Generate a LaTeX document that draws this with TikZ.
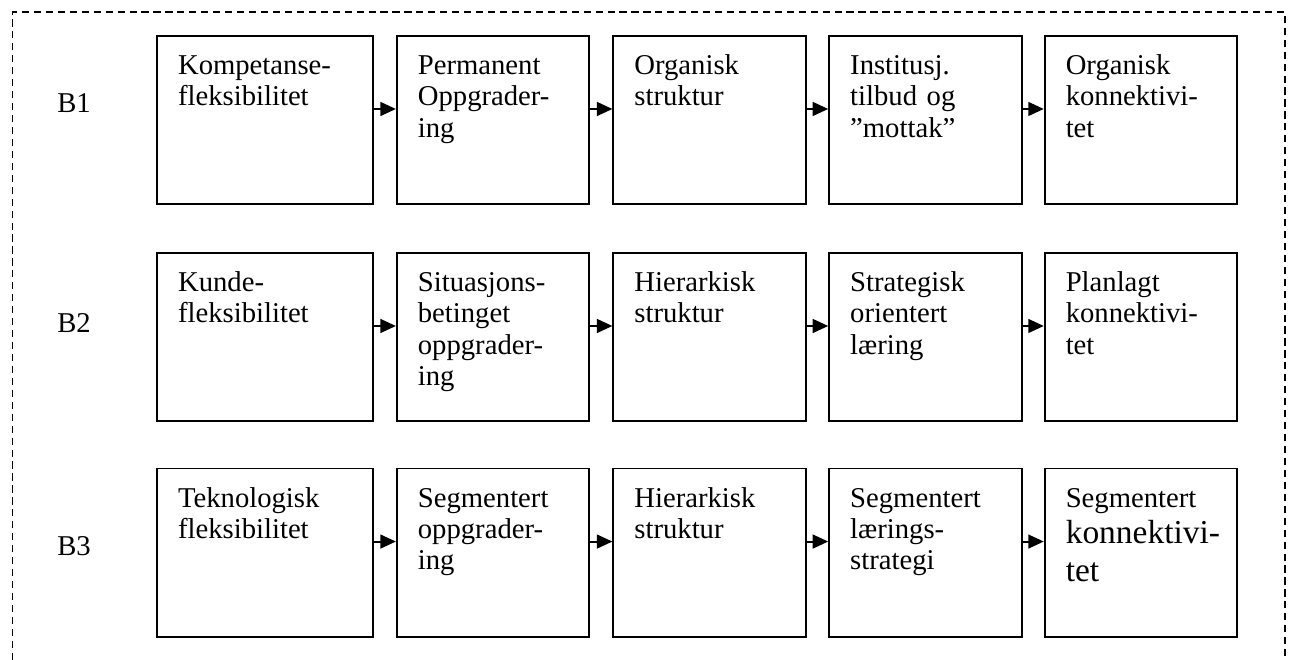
\documentclass[tikz,border=0pt]{standalone}
\usepackage{fontspec}
\setmainfont{Liberation Serif}
\usetikzlibrary{arrows.meta}
\begin{document}
\begin{tikzpicture}[x=1pt,y=-1pt,
  every node/.style={font=\fontsize{12pt}{13pt}\selectfont},
  stage/.style={draw,line width=0.8pt,align=left,inner xsep=8.8pt,inner ysep=8.3pt,
    text height=8pt,text depth=45.7pt,text width=62.9pt},
  wide/.style={stage,text width=72.8pt},
  rowlabel/.style={anchor=base west,inner sep=0pt},
  >={Triangle[length=6.5pt,width=5.8pt]}]
  \useasboundingbox (0,0) rectangle (540.2,276.1);
  \draw[dash pattern=on 3pt off 2pt,line width=0.6pt] (5.2,276.1) -- (5.2,5.1) -- (537.7,5.1) -- (537.7,276.1);

  \node[rowlabel] (B1) at (23.8,46.9) {B1};
  \node[rowlabel] (B2) at (23.8,139.3) {B2};
  \node[rowlabel] (B3) at (23.8,232.6) {B3};

  \node[wide] (11) at (110.9,50.2) {Kompetanse-\\fleksibilitet};
  \node[stage] (12) at (206.3,50.2) {Permanent\\Oppgrader-\\ing};
  \node[stage] (13) at (296.9,50.2) {Organisk\\struktur};
  \node[stage] (14) at (387.2,50.2) {Institusj.\\tilbud og\\”mottak”};
  \node[stage] (15) at (477.4,50.2) {Organisk\\konnektivi-\\tet};

  \node[wide] (21) at (110.9,141.0) {Kunde-\\fleksibilitet};
  \node[stage] (22) at (206.3,141.0) {Situasjons-\\betinget\\oppgrader-\\ing};
  \node[stage] (23) at (296.9,141.0) {Hierarkisk\\struktur};
  \node[stage] (24) at (387.2,141.0) {Strategisk\\orientert\\læring};
  \node[stage] (25) at (477.4,141.0) {Planlagt\\konnektivi-\\tet};

  \node[wide] (31) at (110.9,231.2) {Teknologisk\\fleksibilitet};
  \node[stage] (32) at (206.3,231.2) {Segmentert\\oppgrader-\\ing};
  \node[stage] (33) at (296.9,231.2) {Hierarkisk\\struktur};
  \node[stage] (34) at (387.2,231.2) {Segmentert\\lærings-\\strategi};
  \node[stage] (35) at (477.4,231.2) {Segmentert\\[2pt]\mbox{\fontsize{14pt}{13pt}\selectfont konnektivi-}\\[3pt]\mbox{\fontsize{14pt}{13pt}\selectfont tet}};

  \foreach \from/\to in {11/12,12/13,13/14,14/15,
    21/22,22/23,23/24,24/25,
    31/32,32/33,33/34,34/35}
    \draw[->,line width=0.8pt] ([yshift=4.6pt]\from.east) -- ([yshift=4.6pt]\to.west);
\end{tikzpicture}
\end{document}
